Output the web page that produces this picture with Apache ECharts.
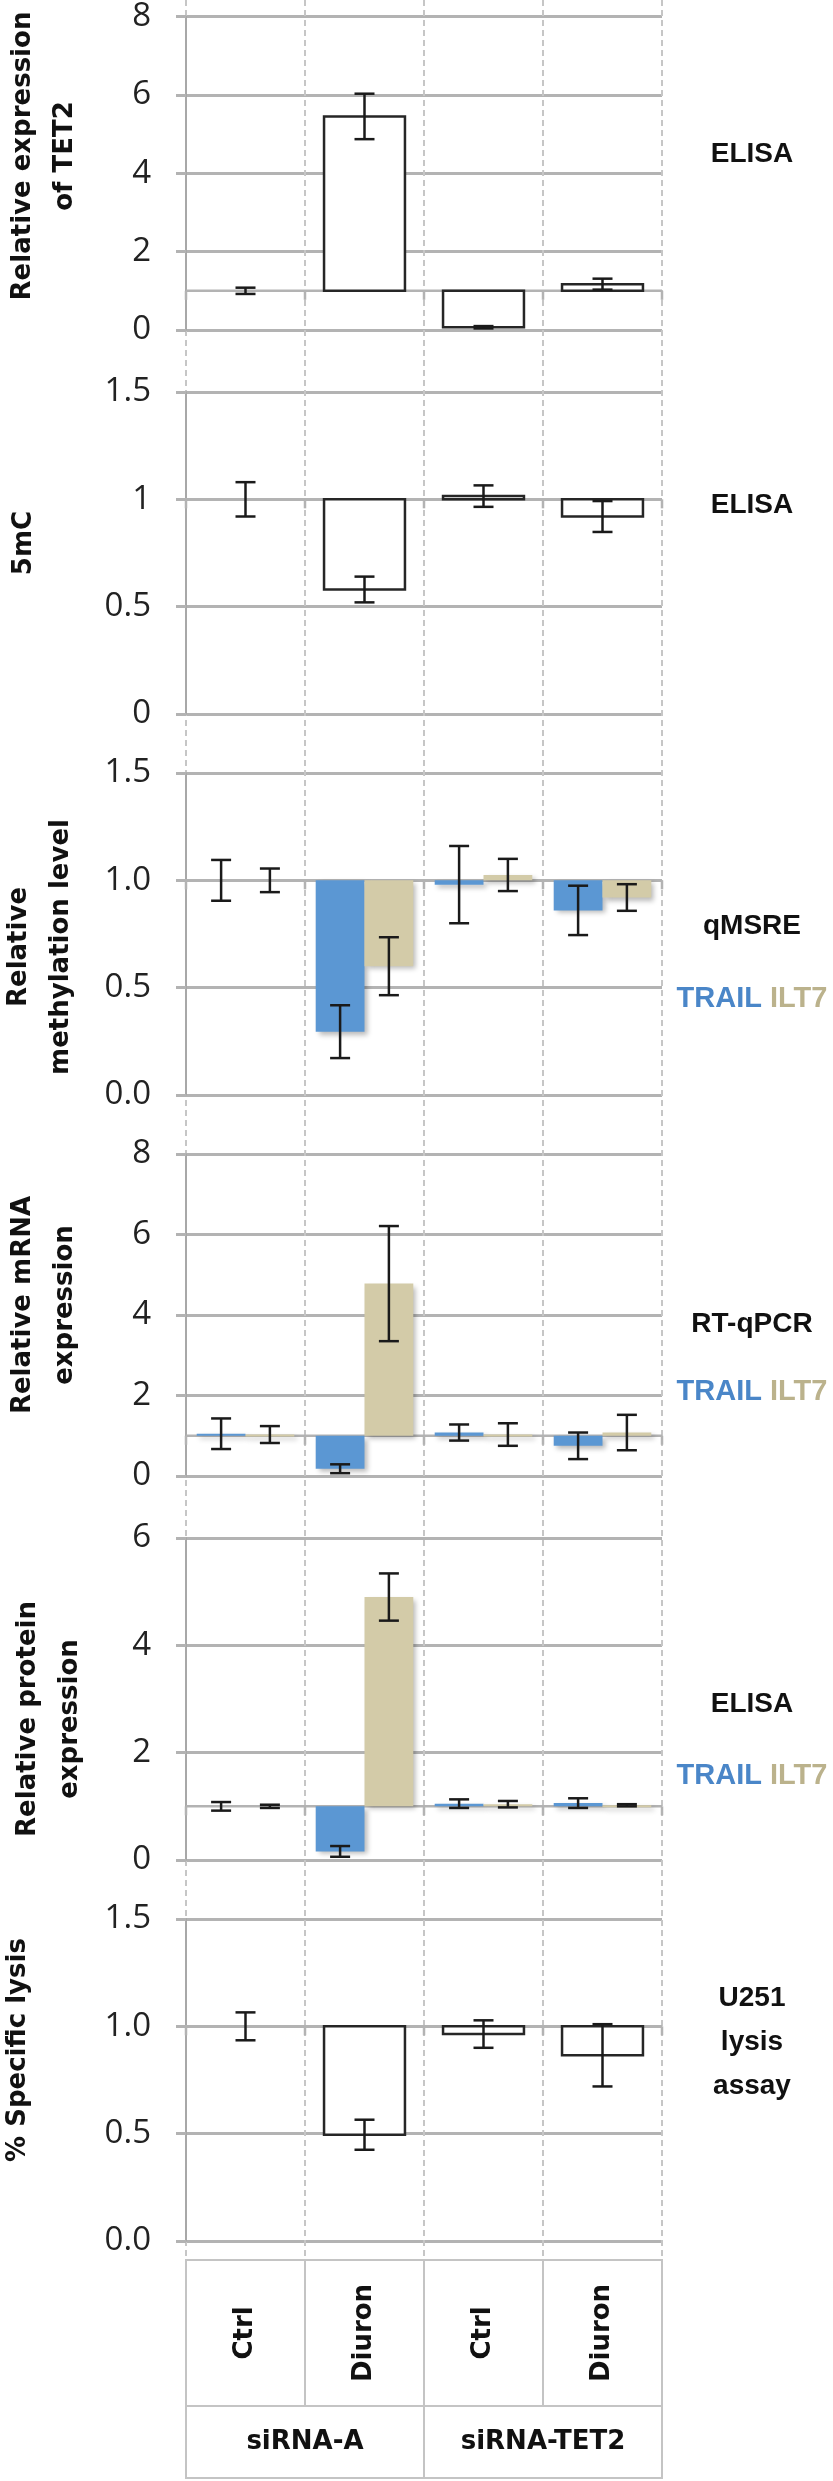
<!DOCTYPE html>
<html>
<head>
<meta charset="utf-8">
<script src="https://cdn.jsdelivr.net/npm/echarts@6/dist/echarts.min.js"></script>
<style>
html,body{margin:0;padding:0;background:#fff;}
#chart{width:833px;height:2481px;}
</style>
</head>
<body>
<div id="chart"></div>
<script>
// ---------------- DATA ----------------
const treatments = ['Ctrl', 'Diuron', 'Ctrl', 'Diuron'];
const groups = ['siRNA-A', 'siRNA-TET2'];

// Relative expression of TET2 (ELISA)
const tet2Mean = [1.0, 5.45, 0.07, 1.17];
const tet2Err  = [0.08, 0.58, 0.03, 0.14];

// 5mC (ELISA)
const mc5Mean = [1.0, 0.58, 1.015, 0.92];
const mc5Err  = [0.08, 0.06, 0.05, 0.072];

// Relative methylation level (qMSRE)
const methTrailMean = [1.0, 0.295, 0.98, 0.86];
const methTrailErr  = [0.095, 0.123, 0.18, 0.115];
const methIlt7Mean  = [1.0, 0.60, 1.025, 0.92];
const methIlt7Err   = [0.055, 0.135, 0.075, 0.062];

// Relative mRNA expression (RT-qPCR)
const mrnaTrailMean = [1.05, 0.18, 1.08, 0.75];
const mrnaTrailErr  = [0.38, 0.11, 0.20, 0.33];
const mrnaIlt7Mean  = [1.03, 4.78, 1.03, 1.08];
const mrnaIlt7Err   = [0.21, 1.43, 0.28, 0.44];

// Relative protein expression (ELISA)
const protTrailMean = [1.0, 0.16, 1.05, 1.06];
const protTrailErr  = [0.08, 0.10, 0.08, 0.09];
const protIlt7Mean  = [1.0, 4.9, 1.04, 1.02];
const protIlt7Err   = [0.03, 0.44, 0.06, 0.02];

// % Specific lysis (U251 lysis assay)
const lysisMean = [1.0, 0.495, 0.964, 0.865];
const lysisErr  = [0.065, 0.07, 0.064, 0.145];

// axis scales
const yMax      = [8, 1.5, 1.5, 8, 6, 1.5];
const yInterval = [2, 0.5, 0.5, 2, 2, 0.5];
const yDecimals = [null, null, 1, null, null, 1];

const yTitles = ['Relative expression\nof TET2', '5mC', 'Relative\nmethylation level',
                 'Relative mRNA\nexpression', 'Relative protein\nexpression', '% Specific lysis'];
const methodLabels = ['ELISA', 'ELISA', 'qMSRE', 'RT-qPCR', 'ELISA', 'U251\nlysis\nassay'];
const geneLegend = [false, false, true, true, true, false];
const geneNames = ['TRAIL', 'ILT7'];

// ---------------- STYLE / LAYOUT ----------------
const conditionKeys = treatments.map((t, i) => groups[Math.floor(i / 2)] + '|' + t);
const LEFT = 186, WIDTH = 476;
const panelTops = [8, 392, 773, 1154, 1538, 1919];
const PANEL_H = 322;
const GRID_COLOR = '#b3b3b3';
const TABLE_COLOR = '#c4c4c4';
const TRAIL_COLOR = '#5b97d3';
const ILT7_COLOR = '#d3cba8';
const TRAIL_TEXT = '#4a86c8';
const ILT7_TEXT = '#bbb28c';
const titleFont = 'DejaVu Sans';
const labelFont = 'Liberation Sans';

const panels = [
  { series: [{ mean: tet2Mean, err: tet2Err, color: '#ffffff', outline: true }] },
  { series: [{ mean: mc5Mean, err: mc5Err, color: '#ffffff', outline: true }] },
  { series: [{ mean: methTrailMean, err: methTrailErr, color: TRAIL_COLOR }, { mean: methIlt7Mean, err: methIlt7Err, color: ILT7_COLOR }] },
  { series: [{ mean: mrnaTrailMean, err: mrnaTrailErr, color: TRAIL_COLOR }, { mean: mrnaIlt7Mean, err: mrnaIlt7Err, color: ILT7_COLOR }] },
  { series: [{ mean: protTrailMean, err: protTrailErr, color: TRAIL_COLOR }, { mean: protIlt7Mean, err: protIlt7Err, color: ILT7_COLOR }] },
  { series: [{ mean: lysisMean, err: lysisErr, color: '#ffffff', outline: true }] }
];

function barRenderer(n, s, frac, color, outline) {
  return function (params, api) {
    const i = api.value(0), v = api.value(1);
    if (Math.abs(v - 1) < 1e-9) return null;
    const band = api.size([1, 0])[0];
    const w = band * frac;
    const base = api.coord([i, 1]);
    const top = api.coord([i, v]);
    const cx = base[0] + (s - (n - 1) / 2) * w;
    const style = outline
      ? { fill: color, stroke: '#262626', lineWidth: 2.5 }
      : { fill: color, shadowBlur: 5, shadowOffsetX: 3, shadowOffsetY: 3, shadowColor: 'rgba(0,0,0,0.28)' };
    return {
      type: 'rect',
      shape: { x: cx - w / 2, y: Math.min(base[1], top[1]), width: w, height: Math.max(Math.abs(top[1] - base[1]), 2) },
      style: style
    };
  };
}

function errRenderer(n, s, frac) {
  return function (params, api) {
    const i = api.value(0), v = api.value(1), e = api.value(2);
    const band = api.size([1, 0])[0];
    const w = band * frac;
    const c = api.coord([i, v]);
    const cx = c[0] + (s - (n - 1) / 2) * w;
    const yt = api.coord([i, v + e])[1];
    const yb = api.coord([i, v - e])[1];
    const cap = 10;
    const st = { stroke: '#1a1a1a', lineWidth: 2.5 };
    return {
      type: 'group',
      children: [
        { type: 'line', shape: { x1: cx, y1: yt, x2: cx, y2: yb }, style: st },
        { type: 'line', shape: { x1: cx - cap, y1: yt, x2: cx + cap, y2: yt }, style: st },
        { type: 'line', shape: { x1: cx - cap, y1: yb, x2: cx + cap, y2: yb }, style: st }
      ]
    };
  };
}

function oneLineRenderer(params, api) {
  const i = api.value(0);
  const band = api.size([1, 0])[0];
  const c = api.coord([i, 1]);
  const x1 = c[0] - band / 2, x2 = c[0] + band / 2;
  const st = { stroke: GRID_COLOR, lineWidth: 2.5 };
  const children = [
    { type: 'line', shape: { x1: x1, y1: c[1], x2: x2, y2: c[1] }, style: st },
    { type: 'line', shape: { x1: x2, y1: c[1], x2: x2, y2: c[1] + 9 }, style: st }
  ];
  if (i === 0) children.push({ type: 'line', shape: { x1: x1, y1: c[1], x2: x1, y2: c[1] + 9 }, style: st });
  return { type: 'group', children: children };
}

// vertical separators at category boundaries (drawn through the category scale)
function sepRenderer(style, withOuter) {
  return function (params, api) {
    const i = api.value(0);
    const band = api.size([1, 0])[0];
    const cs = params.coordSys;
    const cx = api.coord([i, 0])[0];
    const xs = [];
    if (i > 0 || withOuter) xs.push(cx - band / 2);
    if (withOuter && i === params.dataInsideLength - 1) xs.push(cx + band / 2);
    return { type: 'group', children: xs.map(x => ({
      type: 'line', shape: { x1: Math.round(x), y1: cs.y, x2: Math.round(x), y2: cs.y + cs.height }, style: style })) };
  };
}

const grid = [], xAxis = [], yAxis = [], series = [], graphic = [];

// background dashed category separators (grid 0)
grid.push({ left: LEFT, width: WIDTH, top: 0, height: 2260 });
xAxis.push({ gridIndex: 0, type: 'category', data: conditionKeys, boundaryGap: true, show: false });
yAxis.push({ gridIndex: 0, type: 'value', min: 0, max: 1, show: false });
series.push({ type: 'custom', xAxisIndex: 0, yAxisIndex: 0, data: conditionKeys.map((c, i) => [i]), z: 0, silent: true,
  renderItem: sepRenderer({ stroke: '#c6c6c6', lineWidth: 2, lineDash: [6, 4] }, true) });

panels.forEach((p, k) => {
  const gi = grid.length;
  grid.push({ left: LEFT, width: WIDTH, top: panelTops[k], height: PANEL_H });
  xAxis.push({ gridIndex: gi, type: 'category', data: conditionKeys, boundaryGap: true,
    axisLine: { show: false }, axisTick: { show: false }, axisLabel: { show: false }, splitLine: { show: false } });
  const dec = yDecimals[k];
  yAxis.push({ gridIndex: gi, type: 'value', min: 0, max: yMax[k], interval: yInterval[k],
    axisLine: { show: true, lineStyle: { color: '#a8a8a8', width: 2 } },
    axisTick: { show: true, length: 10, lineStyle: { color: GRID_COLOR, width: 3 } },
    splitLine: { show: true, lineStyle: { color: GRID_COLOR, width: 3 } },
    axisLabel: { margin: 35, fontSize: 33, fontFamily: 'Open Sans', color: '#222', padding: [10, 0, 0, 0],
      formatter: v => dec == null ? String(+v.toFixed(2)) : v.toFixed(dec) } });

  const data = conditionKeys.map((c, i) => [i]);
  series.push({ type: 'custom', xAxisIndex: gi, yAxisIndex: gi, data: data, renderItem: oneLineRenderer, z: 2, silent: true });

  const n = p.series.length;
  const frac = n === 1 ? 0.68 : 0.41;
  p.series.forEach((s, si) => {
    const d = conditionKeys.map((c, i) => [i, s.mean[i], s.err[i]]);
    series.push({ type: 'custom', name: n > 1 ? geneNames[si] : yTitles[k], xAxisIndex: gi, yAxisIndex: gi, data: d,
      renderItem: barRenderer(n, si, frac, s.color, !!s.outline), z: 3, silent: true });
  });
  p.series.forEach((s, si) => {
    const d = conditionKeys.map((c, i) => [i, s.mean[i], s.err[i]]);
    series.push({ type: 'custom', xAxisIndex: gi, yAxisIndex: gi, data: d,
      renderItem: errRenderer(n, si, frac), z: 5, silent: true });
  });
});

// table rows
const g1 = grid.length;
grid.push({ left: LEFT, width: WIDTH, top: 2260, height: 146, show: true, borderColor: TABLE_COLOR, borderWidth: 2, backgroundColor: '#fff' });
xAxis.push({ gridIndex: g1, type: 'category', data: conditionKeys, boundaryGap: true,
  axisLine: { show: false }, axisTick: { show: false }, splitLine: { show: false },
  axisLabel: { interval: 0, inside: true, rotate: 90, margin: 73, align: 'center', verticalAlign: 'middle',
    fontFamily: titleFont, fontWeight: 'bold', fontSize: 26, color: '#111',
    formatter: v => v.split('|')[1] } });
yAxis.push({ gridIndex: g1, type: 'value', min: 0, max: 1, show: false });
series.push({ type: 'custom', xAxisIndex: g1, yAxisIndex: g1, data: conditionKeys.map((c, i) => [i]), z: 1, silent: true,
  renderItem: sepRenderer({ stroke: TABLE_COLOR, lineWidth: 2 }, false) });

const g2 = grid.length;
grid.push({ left: LEFT, width: WIDTH, top: 2406, height: 72, show: true, borderColor: TABLE_COLOR, borderWidth: 2, backgroundColor: '#fff' });
xAxis.push({ gridIndex: g2, type: 'category', data: groups, boundaryGap: true,
  axisLine: { show: false }, axisTick: { show: false }, splitLine: { show: false },
  axisLabel: { interval: 0, inside: true, margin: 36, verticalAlign: 'middle',
    fontFamily: titleFont, fontWeight: 'bold', fontSize: 26, color: '#111' } });
yAxis.push({ gridIndex: g2, type: 'value', min: 0, max: 1, show: false });
series.push({ type: 'custom', xAxisIndex: g2, yAxisIndex: g2, data: groups.map((c, i) => [i]), z: 1, silent: true,
  renderItem: sepRenderer({ stroke: TABLE_COLOR, lineWidth: 2 }, false) });

// y-axis titles
const titlePos = [[44, 156], [24, 543], [40, 947], [44, 1305], [49, 1719], [18, 2050]];
yTitles.forEach((t, k) => {
  graphic.push({ type: 'text', x: titlePos[k][0], y: titlePos[k][1], rotation: Math.PI / 2,
    style: { text: t, align: 'center', verticalAlign: 'middle', fontFamily: titleFont, fontWeight: 'bold',
      fontSize: 26, lineHeight: 42, fill: '#111' } });
});

// method labels on the right
const methodPos = [154, 505, 926, 1324, 1704, 2042];
methodLabels.forEach((t, k) => {
  graphic.push({ type: 'text', x: 752, y: methodPos[k],
    style: { text: t, align: 'center', verticalAlign: 'middle', fontFamily: labelFont, fontWeight: 'bold',
      fontSize: 28, lineHeight: 44, fill: '#111' } });
});
const legendPos = [null, null, 999, 1392, 1776, null];
geneLegend.forEach((show, k) => {
  if (!show) return;
  graphic.push({ type: 'text', x: 752, y: legendPos[k],
    style: { text: '{t|' + geneNames[0] + '} {i|' + geneNames[1] + '}', align: 'center', verticalAlign: 'middle',
      fontFamily: labelFont, fontWeight: 'bold', fontSize: 29,
      rich: { t: { fill: TRAIL_TEXT, fontFamily: labelFont, fontWeight: 'bold', fontSize: 29 },
              i: { fill: ILT7_TEXT, fontFamily: labelFont, fontWeight: 'bold', fontSize: 29 } } } });
});

const chart = echarts.init(document.getElementById('chart'), null, { renderer: 'canvas' });
chart.setOption({
  animation: false,
  backgroundColor: '#ffffff',
  grid: grid, xAxis: xAxis, yAxis: yAxis, series: series, graphic: graphic
});
</script>
</body>
</html>
